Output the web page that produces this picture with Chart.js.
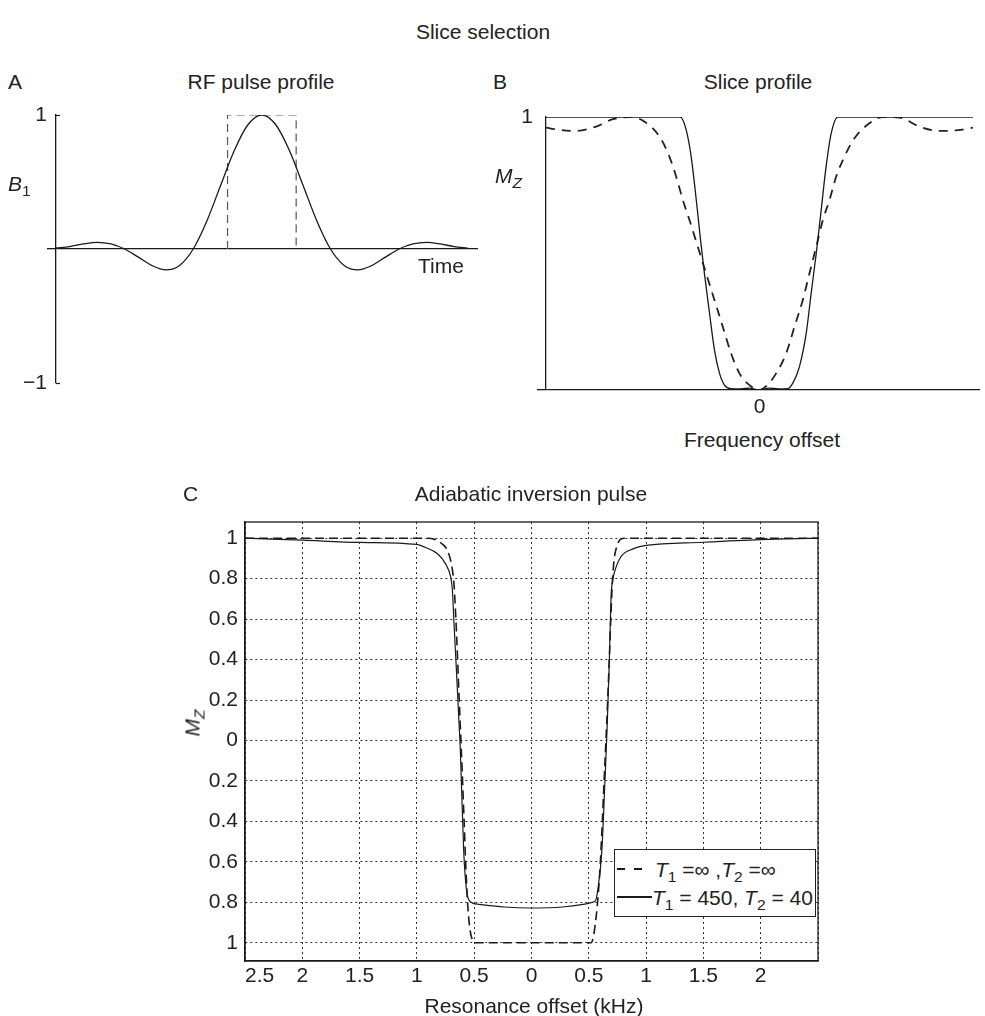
<!DOCTYPE html>
<html>
<head>
<meta charset="utf-8">
<title>Slice selection</title>
<script src="https://cdn.jsdelivr.net/npm/chart.js@4.4.1/dist/chart.umd.min.js"></script>
<style>
  html, body { margin: 0; padding: 0; background: #fff; }
  body {
    width: 985px; height: 1016px; position: relative; overflow: hidden;
    font-family: "Liberation Sans", Arial, Helvetica, sans-serif; color: #222;
  }
  canvas { position: absolute; }
  .t { position: absolute; white-space: nowrap; font-size: 21px; line-height: 1; z-index: 2; }
  .c { transform: translate(-50%, -50%); }
  .l { transform: translate(0, -50%); }
  .rot { transform: translate(-50%, -50%) rotate(-90deg); }
  sub { font-size: 0.74em; vertical-align: baseline; position: relative; top: 0.32em; line-height: 0; }
  #legendC {
    position: absolute; left: 614px; top: 849px; width: 200px; height: 66px;
    border: 1px solid #222; background: #fff; z-index: 3;
  }
  .row { position: absolute; left: 0; height: 0; width: 100%; }
  .sample { position: absolute; top: -1px; height: 1.5px; }
  .label { position: absolute; top: 0; transform: translate(0, -50%); font-size: 21px; line-height: 1; white-space: nowrap; }
</style>
</head>
<body>
<canvas id="pulse" width="490" height="305" style="left:0px;top:95px"></canvas>
<canvas id="slice" width="495" height="330" style="left:490px;top:95px"></canvas>
<canvas id="adiabatic" width="650" height="496" style="left:180px;top:500px"></canvas>

<div class="t c" style="left:483px;top:31px">Slice selection</div>

<div class="t l" style="left:8px;top:81px">A</div>
<div class="t c" style="left:261px;top:81px">RF pulse profile</div>
<div class="t l" style="left:8px;top:183px"><i>B</i><sub>1</sub></div>
<div class="t c" style="left:441px;top:265px">Time</div>

<div class="t l" style="left:493px;top:81px">B</div>
<div class="t c" style="left:758px;top:81px">Slice profile</div>
<div class="t l" style="left:495px;top:175px"><i>M</i><sub><i>Z</i></sub></div>
<div class="t c" style="left:762px;top:439px">Frequency offset</div>

<div class="t l" style="left:183px;top:493px">C</div>
<div class="t c" style="left:531px;top:493px">Adiabatic inversion pulse</div>
<div class="t c rot" style="left:192px;top:723px"><i>M</i><sub><i>Z</i></sub></div>
<div class="t c" style="left:534px;top:1005px">Resonance offset (kHz)</div>

<div id="legendC"></div>

<script>
// ---- Panel A: RF pulse envelope (truncated sinc) and the ideal hard pulse ----
const pulseTime = [-3.0, -2.8, -2.6, -2.4, -2.2, -2.0, -1.8, -1.6, -1.4, -1.2, -1.0, -0.8, -0.6, -0.4, -0.2, 0,
                   0.2, 0.4, 0.6, 0.8, 1.0, 1.2, 1.4, 1.6, 1.8, 2.0, 2.2, 2.4, 2.6, 2.8, 3.0];
const pulseB1 = [0.008, 0.018, 0.038, 0.050, 0.038, 0.0, -0.061, -0.124, -0.156, -0.123, 0.0, 0.211, 0.476, 0.737, 0.929, 1.0,
                 0.929, 0.737, 0.476, 0.211, 0.0, -0.123, -0.156, -0.124, -0.061, 0.0, 0.038, 0.050, 0.038, 0.018, 0.006];
const rectTime = [-0.5, -0.5, 0.5, 0.5];
const rectB1 = [0, 1, 1, 0];
const pulseTicks = [-1, 0, 1];

// ---- Panel B: slice profiles ----
const offsetSolid = [-1.0, -0.371, -0.343, -0.32, -0.296, -0.276, -0.258, -0.234, -0.211, -0.187, -0.164, -0.133, -0.09, -0.045, 0,
                     0.045, 0.09, 0.133, 0.156, 0.187, 0.219, 0.242, 0.266, 0.289, 0.312, 0.336, 0.367, 1.0];
const mzSolid = [1, 1, 0.952, 0.855, 0.696, 0.549, 0.427, 0.281, 0.147, 0.061, 0.018, 0.005, 0.004, 0.007, 0.0,
                 0.007, 0.004, 0.005, 0.025, 0.085, 0.208, 0.354, 0.501, 0.659, 0.818, 0.94, 1, 1];
const offsetDashed = [-1.0, -0.93, -0.86, -0.765, -0.687, -0.609, -0.547, -0.468, -0.422, -0.39, -0.359, -0.328, -0.289, -0.25,
                      -0.211, -0.172, -0.133, -0.094, -0.047, 0, 0.039, 0.078, 0.125, 0.164, 0.203, 0.234, 0.266, 0.297,
                      0.328, 0.359, 0.398, 0.445, 0.515, 0.578, 0.656, 0.749, 0.843, 0.93, 1.0];
const mzDashed = [0.961, 0.952, 0.949, 0.965, 0.992, 1.0, 0.987, 0.928, 0.855, 0.781, 0.696, 0.623, 0.525, 0.427,
                  0.33, 0.232, 0.134, 0.061, 0.018, 0, 0.02, 0.061, 0.134, 0.232, 0.33, 0.427, 0.525, 0.623,
                  0.696, 0.781, 0.855, 0.922, 0.977, 1.0, 0.998, 0.965, 0.949, 0.952, 0.961];
const sliceXTicks = [0];
const sliceYTicks = [0, 1];

// ---- Panel C: adiabatic inversion vs. resonance offset (kHz) ----
const kHzRelax = [-2.5, -2.0, -1.5, -1.0, -0.93, -0.82, -0.75, -0.705, -0.69, -0.676, -0.658, -0.632, -0.621, -0.592, -0.567,
                  -0.53, -0.458, -0.24, 0, 0.27, 0.45, 0.53, 0.56, 0.578, 0.614, 0.64, 0.661, 0.68, 0.694, 0.705,
                  0.723, 0.778, 0.887, 1.0, 1.5, 2.0, 2.5];
const mzRelax = [1.0, 0.99, 0.979, 0.969, 0.955, 0.923, 0.873, 0.807, 0.741, 0.577, 0.379, 0.082, -0.048, -0.543, -0.74,
                 -0.798, -0.81, -0.823, -0.828, -0.823, -0.81, -0.80, -0.79, -0.74, -0.543, -0.213, 0.082, 0.41, 0.708, 0.78,
                 0.83, 0.906, 0.947, 0.964, 0.98, 0.993, 1.0];
const kHzIdeal = [-2.5, -0.9, -0.85, -0.8, -0.75, -0.715, -0.694, -0.677, -0.665, -0.652, -0.638, -0.622, -0.605, -0.588,
                  -0.572, -0.558, -0.54, -0.52, -0.5, 0.52, 0.54, 0.556, 0.575, 0.596, 0.615, 0.632, 0.648, 0.665,
                  0.68, 0.693, 0.705, 0.72, 0.745, 0.778, 0.82, 2.5];
const mzIdeal = [1.0, 1.0, 0.995, 0.98, 0.955, 0.91, 0.857, 0.78, 0.66, 0.5, 0.3, 0.08, -0.15, -0.4,
                 -0.64, -0.8, -0.92, -0.98, -1.0, -1.0, -0.97, -0.91, -0.81, -0.65, -0.44, -0.22, -0.02, 0.2,
                 0.42, 0.62, 0.774, 0.89, 0.96, 0.995, 1.0, 1.0];
const mzTicks = [-1, -0.8, -0.6, -0.4, -0.2, 0, 0.2, 0.4, 0.6, 0.8, 1];
const kHzTicks = [-2.5, -2, -1.5, -1, -0.5, 0, 0.5, 1, 1.5, 2, 2.5];
const legendLabels = [
  '<i>T</i><sub>1</sub> =\u221E ,<i>T</i><sub>2</sub> =\u221E',
  '<i>T</i><sub>1</sub> = 450, <i>T</i><sub>2</sub> = 40'
];

const FONT = { family: "'Liberation Sans', Arial, Helvetica, sans-serif", size: 21 };
const INK = '#1a1a1a';

const pts = (xs, ys) => xs.map((x, i) => ({ x, y: ys[i] }));
const fixedTicks = list => scale => { scale.ticks = list.map(v => ({ value: v })); };
const noChrome = {
  responsive: false, animation: false, events: [], devicePixelRatio: 1,
  plugins: { legend: { display: false }, tooltip: { enabled: false } }
};
const onlyZero = ctx => (ctx.tick && ctx.tick.value === 0 ? INK : 'rgba(0,0,0,0)');

// small inward ticks at the ends of the B1 axis
const endStubs = {
  id: 'endStubs',
  afterDraw(chart) {
    const { ctx, chartArea } = chart;
    const ys = chart.scales.y;
    ctx.save();
    ctx.strokeStyle = INK; ctx.lineWidth = 1.2;
    [ys.min, ys.max].forEach(v => {
      const py = Math.round(ys.getPixelForValue(v)) + 0.5;
      ctx.beginPath(); ctx.moveTo(chartArea.left, py); ctx.lineTo(chartArea.left + 4, py); ctx.stroke();
    });
    ctx.restore();
  }
};

// closed box round the plot area
const plotFrame = {
  id: 'plotFrame',
  afterDraw(chart) {
    const { ctx, chartArea: a } = chart;
    ctx.save();
    ctx.strokeStyle = INK; ctx.lineWidth = 1.3;
    ctx.strokeRect(a.left, a.top, a.right - a.left, a.bottom - a.top);
    ctx.restore();
  }
};

// Panel A
new Chart(document.getElementById('pulse'), {
  type: 'line',
  data: {
    datasets: [
      { data: pts(pulseTime, pulseB1), borderColor: INK, borderWidth: 1.3, pointRadius: 0,
        cubicInterpolationMode: 'monotone', fill: false },
      { data: pts(rectTime, rectB1), borderColor: '#555', borderWidth: 1.2, borderDash: [8, 5],
        pointRadius: 0, tension: 0, fill: false }
    ]
  },
  options: Object.assign({}, noChrome, {
    layout: { padding: { top: 20, right: 12, bottom: 17, left: 0 } },
    scales: {
      x: { type: 'linear', min: -3, max: 3.15, display: false },
      y: {
        type: 'linear', min: -1, max: 1,
        afterFit: s => { s.width = 56; },
        afterBuildTicks: fixedTicks(pulseTicks),
        ticks: { padding: 0, color: '#222', font: FONT,
                 callback: v => (v === 0 ? '' : (v < 0 ? '\u2212' + Math.abs(v) : String(v))) },
        grid: { tickLength: 9, lineWidth: 1.3, color: onlyZero, tickColor: onlyZero },
        border: { display: true, color: INK, width: 1.3 }
      }
    }
  }),
  plugins: [endStubs]
});

// Panel B
new Chart(document.getElementById('slice'), {
  type: 'line',
  data: {
    datasets: [
      { data: pts(offsetSolid, mzSolid), borderColor: INK, borderWidth: 1.3, pointRadius: 0,
        cubicInterpolationMode: 'monotone', fill: false },
      { data: pts(offsetDashed, mzDashed), borderColor: '#222', borderWidth: 1.8, borderDash: [9, 7],
        pointRadius: 0, cubicInterpolationMode: 'monotone', fill: false }
    ]
  },
  options: Object.assign({}, noChrome, {
    layout: { padding: { top: 22, right: 5, bottom: 0, left: 0 } },
    scales: {
      x: {
        type: 'linear', min: -1, max: 1.033,
        afterFit: s => { s.height = 35; },
        afterBuildTicks: fixedTicks(sliceXTicks),
        ticks: { padding: 5, color: '#222', font: FONT, maxRotation: 0, callback: v => String(v) },
        grid: { display: false, drawTicks: false },
        border: { display: false }
      },
      y: {
        type: 'linear', min: 0, max: 1,
        afterFit: s => { s.width = 56; },
        afterBuildTicks: fixedTicks(sliceYTicks),
        ticks: { padding: 4, color: '#222', font: FONT, callback: v => (v === 0 ? '' : String(v)) },
        grid: { tickLength: 9, lineWidth: 1.3, color: onlyZero, tickColor: onlyZero },
        border: { display: true, color: INK, width: 1.3 }
      }
    }
  })
});

// Panel C
const absLabel = v => String(Math.abs(Math.round(v * 10) / 10));
new Chart(document.getElementById('adiabatic'), {
  type: 'line',
  data: {
    datasets: [
      { data: pts(kHzIdeal, mzIdeal), borderColor: INK, borderWidth: 1.6, borderDash: [9, 5], pointRadius: 0,
        cubicInterpolationMode: 'monotone', fill: false },
      { data: pts(kHzRelax, mzRelax), borderColor: INK, borderWidth: 1.2, pointRadius: 0,
        cubicInterpolationMode: 'monotone', fill: false }
    ]
  },
  options: Object.assign({}, noChrome, {
    layout: { padding: { top: 22, right: 12, bottom: 0, left: 0 } },
    scales: {
      x: {
        type: 'linear', min: -2.5, max: 2.5,
        afterFit: s => { s.height = 35; },
        afterBuildTicks: fixedTicks(kHzTicks),
        ticks: { padding: 3, color: '#222', font: FONT, maxRotation: 0, autoSkip: false,
                 // the end labels: the left one sits just inside the frame, the right one is left out
                 callback: (v, i, arr) => (i === arr.length - 1 ? '' : (i === 0 ? '     ' + absLabel(v) : absLabel(v))) },
        grid: { drawTicks: false, color: '#333', lineWidth: 1 },
        border: { display: true, color: INK, width: 1.3, dash: [2, 3] }
      },
      y: {
        type: 'linear', min: -1.09, max: 1.08,
        afterFit: s => { s.width = 65; },
        afterBuildTicks: fixedTicks(mzTicks),
        ticks: { padding: 7, color: '#222', font: FONT, autoSkip: false, callback: v => absLabel(v) },
        grid: { drawTicks: false, color: '#333', lineWidth: 1 },
        border: { display: true, color: INK, width: 1.3, dash: [2, 3] }
      }
    }
  }),
  plugins: [plotFrame]
});

// legend for panel C
(function buildLegend() {
  const box = document.getElementById('legendC');
  const rows = [
    { y: 19, sample: 'repeating-linear-gradient(to right,#1a1a1a 0 8px,transparent 8px 17px)', sx: 2, sw: 26, tx: 40 },
    { y: 47, sample: '#1a1a1a', sx: 2, sw: 35, tx: 37 }
  ];
  rows.forEach((r, i) => {
    const row = document.createElement('div');
    row.className = 'row';
    row.style.top = r.y + 'px';
    const s = document.createElement('div');
    s.className = 'sample';
    s.style.left = r.sx + 'px'; s.style.width = r.sw + 'px'; s.style.background = r.sample;
    const t = document.createElement('div');
    t.className = 'label';
    t.style.left = r.tx + 'px';
    t.innerHTML = legendLabels[i];
    row.appendChild(s); row.appendChild(t);
    box.appendChild(row);
  });
})();
</script>
</body>
</html>
